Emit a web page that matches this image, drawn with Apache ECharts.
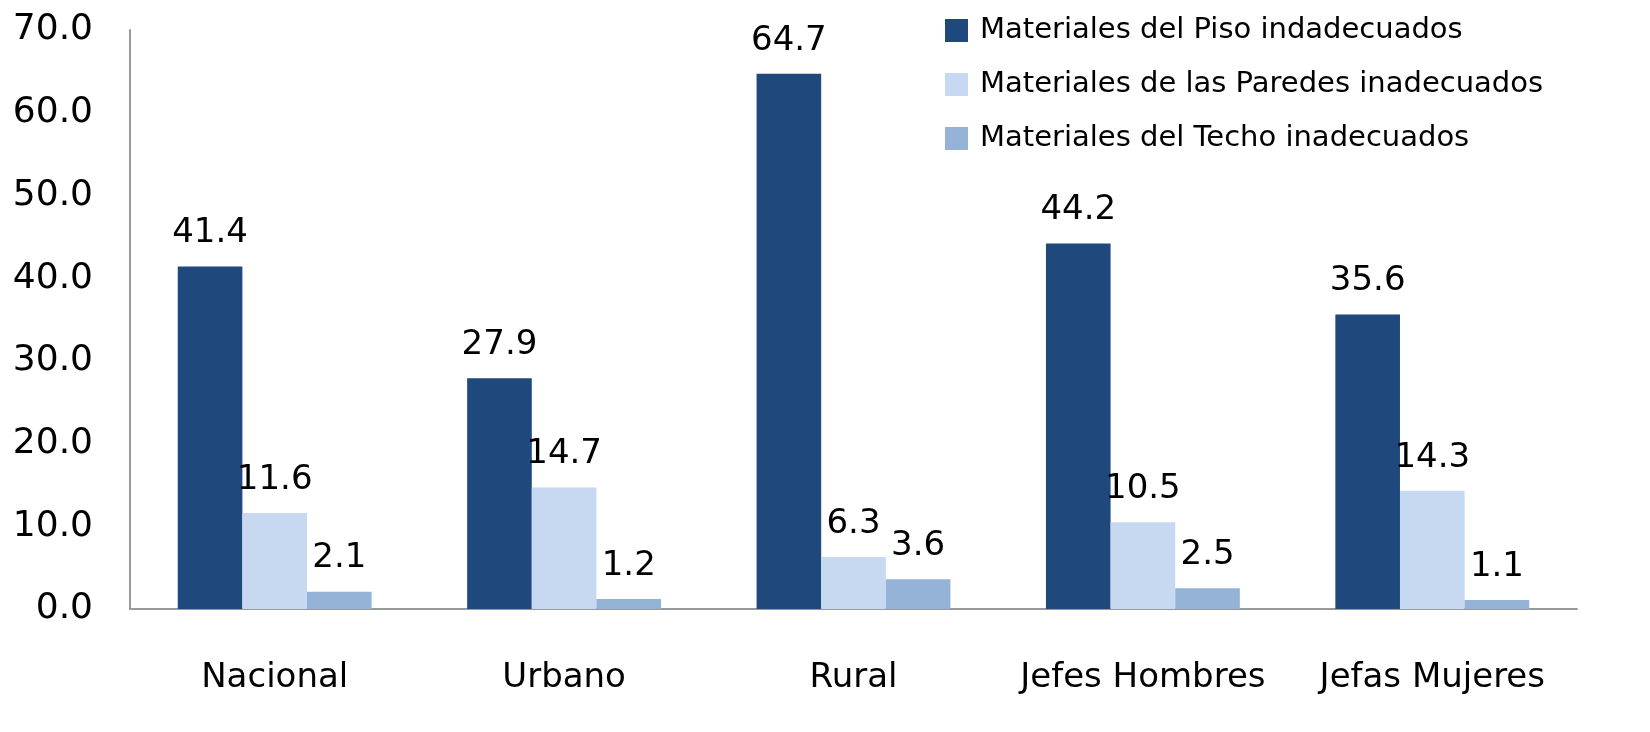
<!DOCTYPE html>
<html><head><meta charset="utf-8">
<script src="https://cdn.jsdelivr.net/npm/echarts@6/dist/echarts.min.js"></script>
<style>html,body{margin:0;padding:0;background:#fff}#c{width:1650px;height:732px}</style>
</head><body><div id="c"></div>
<script>
const categories = ['Nacional', 'Urbano', 'Rural', 'Jefes Hombres', 'Jefas Mujeres'];
const seriesNames = ['Materiales del Piso indadecuados', 'Materiales de las Paredes inadecuados', 'Materiales del Techo inadecuados'];
const piso = [41.4, 27.9, 64.7, 44.2, 35.6];
const paredes = [11.6, 14.7, 6.3, 10.5, 14.3];
const techo = [2.1, 1.2, 3.6, 2.5, 1.1];
const colors = ['#1f497d', '#c6d9f1', '#95b3d7'];
const FONT = 'DejaVu Sans';

const chart = echarts.init(document.getElementById('c'));
const mk = (name, data, color) => ({
  name, type: 'bar', data, barGap: '0%', barCategoryGap: '33%',
  itemStyle: { color },
  label: { show: true, position: 'top', distance: 16, fontFamily: FONT, fontSize: 34, color: '#000',
           formatter: p => p.value.toFixed(1) }
});
chart.setOption({
  animation: false,
  textStyle: { fontFamily: FONT },
  grid: { left: 130, right: 73, top: 30, bottom: 123 },
  legend: {
    orient: 'vertical', left: 940, top: 11, itemWidth: 23, itemHeight: 23, itemGap: 25,
    icon: 'rect', textStyle: { fontFamily: FONT, fontSize: 29, color: '#000', padding: [0, 0, 0, 7] },
    data: seriesNames
  },
  xAxis: {
    type: 'category', data: categories,
    axisLine: { lineStyle: { color: '#999', width: 2 } },
    axisTick: { show: false },
    axisLabel: { interval: 0, margin: 52, fontFamily: FONT, fontSize: 34, color: '#000' }
  },
  yAxis: {
    type: 'value', min: 0, max: 70, interval: 10,
    axisLine: { show: true, lineStyle: { color: '#999', width: 2 } },
    axisTick: { show: false },
    splitLine: { show: false },
    axisLabel: { margin: 37, fontFamily: FONT, fontSize: 36, color: '#000', formatter: v => v.toFixed(1) }
  },
  series: [mk(seriesNames[0], piso, colors[0]), mk(seriesNames[1], paredes, colors[1]), mk(seriesNames[2], techo, colors[2])]
});
</script></body></html>
